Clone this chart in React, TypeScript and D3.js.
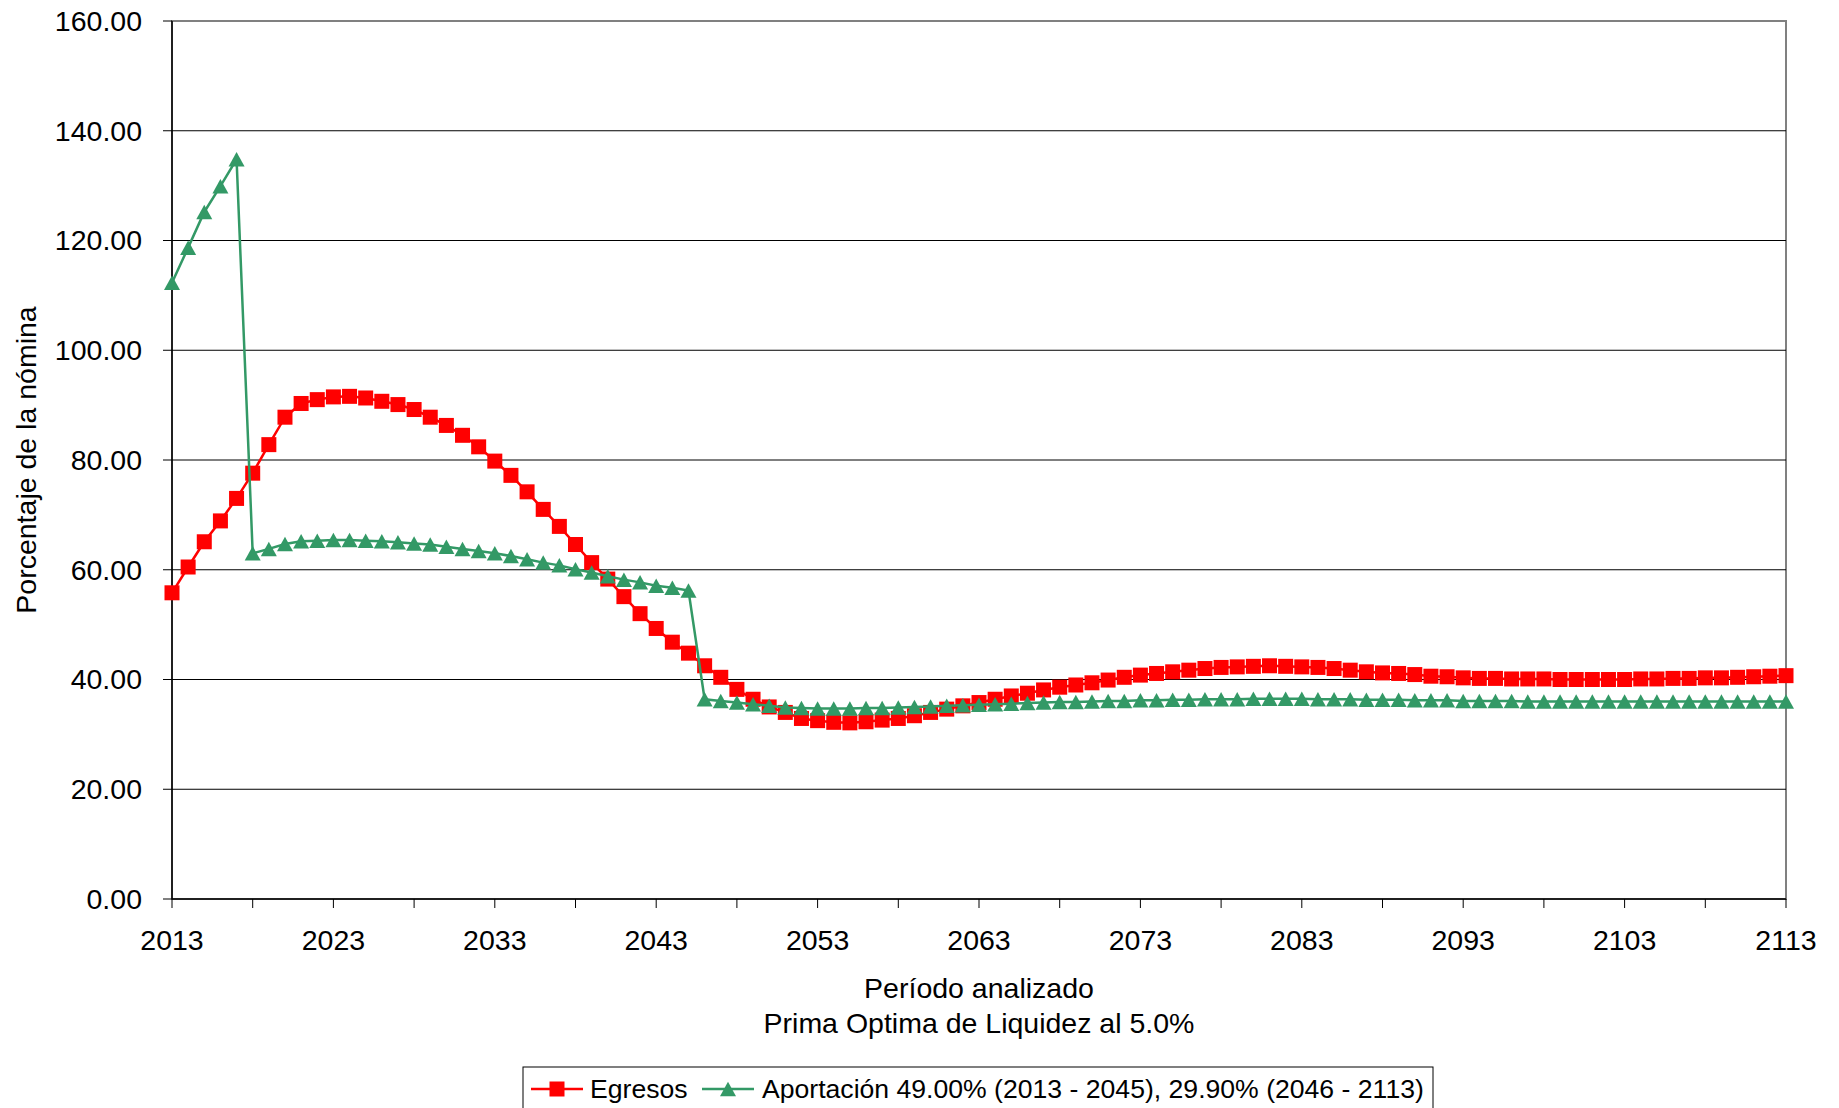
import React from "react";
import * as d3 from "d3";

const startYear = 2013;
const endYear = 2113;

const egresos: number[] = [
  55.8, 60.5, 65.1, 68.9, 73.0, 77.6, 82.8, 87.8, 90.3, 91.0,
  91.5, 91.6, 91.3, 90.7, 90.1, 89.2, 87.8, 86.3, 84.5, 82.4,
  79.8, 77.2, 74.2, 71.0, 67.9, 64.6, 61.3, 58.3, 55.1, 52.0,
  49.3, 46.8, 44.8, 42.5, 40.4, 38.2, 36.4, 35.0, 34.0, 32.9,
  32.5, 32.2, 32.1, 32.3, 32.6, 32.9, 33.4, 34.0, 34.6, 35.2,
  35.8, 36.4, 37.0, 37.5, 38.1, 38.6, 39.0, 39.4, 39.9, 40.4,
  40.8, 41.1, 41.4, 41.7, 42.0, 42.2, 42.3, 42.4, 42.5, 42.4,
  42.3, 42.2, 42.0, 41.7, 41.4, 41.2, 41.1, 40.9, 40.6, 40.5,
  40.3, 40.2, 40.2, 40.1, 40.1, 40.1, 40.0, 40.0, 40.0, 40.0,
  40.0, 40.1, 40.1, 40.2, 40.2, 40.3, 40.3, 40.4, 40.5, 40.6,
  40.7,
];

const aportacion: number[] = [
  112.3, 118.7, 125.2, 129.9, 134.8, 63.0, 63.8, 64.7, 65.2, 65.3,
  65.4, 65.4, 65.3, 65.2, 65.0, 64.8, 64.6, 64.2, 63.8, 63.4,
  63.0, 62.5, 61.9, 61.3, 60.8, 60.1, 59.5, 58.8, 58.2, 57.7,
  57.1, 56.7, 56.2, 36.4, 36.1, 35.8, 35.5, 35.2, 34.9, 34.8,
  34.7, 34.7, 34.7, 34.8, 34.8, 34.9, 35.0, 35.1, 35.2, 35.3,
  35.4, 35.5, 35.6, 35.7, 35.8, 35.9, 35.9, 36.0, 36.1, 36.1,
  36.2, 36.2, 36.3, 36.3, 36.4, 36.4, 36.4, 36.5, 36.5, 36.5,
  36.5, 36.4, 36.4, 36.4, 36.3, 36.3, 36.3, 36.2, 36.2, 36.2,
  36.1, 36.1, 36.1, 36.1, 36.0, 36.0, 36.0, 36.0, 36.0, 36.0,
  36.0, 36.0, 36.0, 36.0, 36.0, 36.0, 36.0, 36.0, 36.0, 36.0,
  36.0,
];

const yTicks: number[] = [0, 20, 40, 60, 80, 100, 120, 140, 160];
const xLabelYears: number[] = [2013, 2023, 2033, 2043, 2053, 2063, 2073, 2083, 2093, 2103, 2113];
const xTickYears: number[] = d3.range(startYear, endYear + 1, 5);

const seriesNames = ["Egresos", "Aportación 49.00% (2013 - 2045), 29.90% (2046 - 2113)"];
const xTitle = "Período analizado";
const xSubtitle = "Prima Optima de Liquidez al 5.0%";
const yTitle = "Porcentaje de la nómina";

const RED = "#FF0000";
const GREEN = "#339966";
const FONT = "'Liberation Sans', Arial, sans-serif";

export default function App() {
  const W = 1839;
  const H = 1108;
  const left = 172, right = 1786, top = 21, bottom = 899;
  const years = d3.range(startYear, endYear + 1);
  const x = d3.scaleLinear().domain([startYear, endYear]).range([left, right]);
  const y = d3.scaleLinear().domain([0, 160]).range([bottom, top]);

  const line = d3
    .line<number>()
    .x((_, i) => x(years[i]))
    .y((d) => y(d));

  const sq = 15;
  const triW = 16, triH = 14.5;
  const tri = (cx: number, cy: number) =>
    `M${cx},${cy - triH / 2}L${cx + triW / 2},${cy + triH / 2}L${cx - triW / 2},${cy + triH / 2}Z`;

  const fs = 28.5;
  const lfs = 26.6;

  return (
    <div style={{ position: "absolute", left: 0, top: 0 }}>
      <svg width={W} height={H} style={{ display: "block", background: "#fff" }}>
        {/* plot border */}
        <rect x={left} y={top} width={right - left} height={bottom - top} fill="none" stroke="#808080" strokeWidth={2} />
        {/* gridlines */}
        {yTicks.filter((t) => t > 0 && t < 160).map((t) => (
          <line key={"g" + t} x1={left} x2={right} y1={y(t)} y2={y(t)} stroke="#000" strokeWidth={1} />
        ))}
        {/* axes */}
        <line x1={left} x2={left} y1={top} y2={bottom} stroke="#000" strokeWidth={1.5} />
        <line x1={left} x2={right} y1={bottom} y2={bottom} stroke="#000" strokeWidth={1.5} />
        {/* y ticks */}
        {yTicks.map((t) => (
          <g key={"yt" + t}>
            <line x1={left - 9} x2={left} y1={y(t)} y2={y(t)} stroke="#000" strokeWidth={1} />
            <text x={left - 30} y={y(t)} dy="0.35em" textAnchor="end" fontFamily={FONT} fontSize={fs} fill="#000">
              {t.toFixed(2)}
            </text>
          </g>
        ))}
        {/* x ticks */}
        {xTickYears.map((t) => (
          <line key={"xt" + t} x1={x(t)} x2={x(t)} y1={bottom} y2={bottom + 9} stroke="#000" strokeWidth={1} />
        ))}
        {xLabelYears.map((t) => (
          <text key={"xl" + t} x={x(t)} y={950} textAnchor="middle" fontFamily={FONT} fontSize={fs} fill="#000">
            {t}
          </text>
        ))}
        {/* titles */}
        <text x={979} y={998} textAnchor="middle" fontFamily={FONT} fontSize={fs} fill="#000">
          {xTitle}
        </text>
        <text x={979} y={1033} textAnchor="middle" fontFamily={FONT} fontSize={fs} fill="#000">
          {xSubtitle}
        </text>
        <text
          transform={`translate(36,460) rotate(-90)`}
          textAnchor="middle"
          fontFamily={FONT}
          fontSize={fs}
          fill="#000"
        >
          {yTitle}
        </text>

        {/* Egresos */}
        <path d={line(egresos) || ""} fill="none" stroke={RED} strokeWidth={2.5} />
        {egresos.map((v, i) => (
          <rect key={"r" + i} x={x(years[i]) - sq / 2} y={y(v) - sq / 2} width={sq} height={sq} fill={RED} />
        ))}
        {/* Aportacion */}
        <path d={line(aportacion) || ""} fill="none" stroke={GREEN} strokeWidth={2.5} />
        {aportacion.map((v, i) => (
          <path key={"t" + i} d={tri(x(years[i]), y(v))} fill={GREEN} />
        ))}

        {/* legend */}
        <rect x={523} y={1067} width={910} height={60} fill="#fff" stroke="#000" strokeWidth={1} />
        <line x1={531} x2={583} y1={1089} y2={1089} stroke={RED} strokeWidth={2.5} />
        <rect x={557 - sq / 2} y={1089 - sq / 2} width={sq} height={sq} fill={RED} />
        <text x={590} y={1098} fontFamily={FONT} fontSize={lfs} fill="#000">{seriesNames[0]}</text>
        <line x1={702} x2={754} y1={1089} y2={1089} stroke={GREEN} strokeWidth={2.5} />
        <path d={tri(728, 1089)} fill={GREEN} />
        <text x={762} y={1098} fontFamily={FONT} fontSize={lfs} fill="#000">{seriesNames[1]}</text>
      </svg>
    </div>
  );
}
